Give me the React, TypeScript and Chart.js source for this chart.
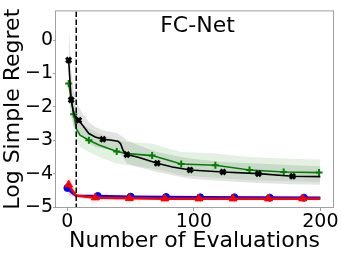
import React, { useEffect, useRef } from "react";
import { Chart, registerables } from "chart.js";

Chart.register(...registerables);

const FONT = "'DejaVu Sans', sans-serif";

const titleText = "FC-Net";
const xLabel = "Number of Evaluations";
const yLabel = "Log Simple Regret";
const xTicks = [0, 100, 200];
const yTicks = [-5, -4, -3, -2, -1, 0];
const dashX = 7;

// black (X markers)
const xBlack = [1, 3, 5, 7, 9, 12, 17, 22, 28, 35, 40, 42, 44, 47, 56, 71, 83, 97, 123, 151, 178, 200];
const meanBlack = [-0.6, -1.79, -2.2, -2.35, -2.4, -2.55, -2.8, -2.9, -2.97, -3.0, -3.03, -3.1, -3.3, -3.43, -3.51, -3.69, -3.8, -3.89, -3.95, -4.0, -4.08, -4.09];
const upperBlack = [0.55, -0.9, -1.5, -1.8, -2.0, -2.2, -2.45, -2.6, -2.7, -2.75, -2.8, -2.85, -2.9, -3.0, -3.15, -3.35, -3.45, -3.55, -3.65, -3.7, -3.75, -3.78];
const lowerBlack = [-1.6, -2.3, -2.6, -2.7, -2.8, -2.9, -3.1, -3.2, -3.25, -3.3, -3.35, -3.42, -3.5, -3.7, -3.8, -3.95, -4.05, -4.15, -4.22, -4.28, -4.32, -4.33];
const mxBlack = [1, 3, 9, 28, 47, 71, 97, 123, 151, 178];
const myBlack = [-0.6, -1.79, -2.4, -2.97, -3.43, -3.69, -3.89, -3.95, -4.0, -4.08];

// green (+ markers)
const xGreen = [1, 5, 7, 10, 17, 25, 39, 48, 67, 80, 90, 117, 144, 171, 200];
const meanGreen = [-1.3, -2.22, -2.65, -2.85, -3.0, -3.14, -3.34, -3.4, -3.46, -3.6, -3.71, -3.75, -3.89, -3.95, -3.97];
const upperGreen = [-0.9, -1.8, -2.2, -2.45, -2.65, -2.8, -3.0, -3.05, -3.1, -3.25, -3.35, -3.4, -3.5, -3.55, -3.58];
const lowerGreen = [-1.7, -2.6, -3.0, -3.2, -3.35, -3.5, -3.7, -3.75, -3.85, -3.95, -4.05, -4.12, -4.2, -4.22, -4.25];
const mxGreen = [1, 5, 17, 39, 67, 90, 117, 144, 171, 199];
const myGreen = [-1.3, -2.22, -3.0, -3.34, -3.46, -3.71, -3.75, -3.89, -3.95, -3.97];

// blue (circle markers)
const xBlue = [0, 3, 7, 24, 50, 78, 105, 200];
const meanBlue = [-4.43, -4.55, -4.66, -4.67, -4.69, -4.7, -4.71, -4.72];
const upperBlue = [-4.25, -4.45, -4.62, -4.64, -4.66, -4.67, -4.68, -4.69];
const lowerBlue = [-4.6, -4.65, -4.7, -4.7, -4.72, -4.73, -4.74, -4.75];
const mxBlue = [0, 24, 50, 78, 105, 132, 160, 187];
const myBlue = [-4.43, -4.67, -4.69, -4.7, -4.71, -4.71, -4.72, -4.72];

// red (triangle markers)
const xRed = [1, 3, 7, 22, 49, 77, 200];
const meanRed = [-4.31, -4.45, -4.66, -4.72, -4.74, -4.75, -4.75];
const upperRed = [-4.0, -4.2, -4.6, -4.68, -4.7, -4.71, -4.71];
const lowerRed = [-4.65, -4.68, -4.72, -4.76, -4.78, -4.79, -4.79];
const mxRed = [1, 22, 49, 77, 104, 131, 159, 186];
const myRed = [-4.33, -4.72, -4.74, -4.75, -4.75, -4.75, -4.75, -4.75];

const pts = (xs: number[], ys: number[]) => xs.map((x, i) => ({ x, y: ys[i] }));

const band = (xs: number[], up: number[], lo: number[], color: string) => [
  { data: pts(xs, up), borderWidth: 0, pointRadius: 0, fill: false, order: 20, borderColor: "rgba(0,0,0,0)" },
  { data: pts(xs, lo), borderWidth: 0, pointRadius: 0, fill: "-1", backgroundColor: color, order: 20, borderColor: "rgba(0,0,0,0)" },
];

const line = (xs: number[], ys: number[], color: string, width: number, order: number) => ({
  data: pts(xs, ys), borderColor: color, borderWidth: width, pointRadius: 0, fill: false, order, tension: 0,
});

const marks = (xs: number[], ys: number[], color: string, style: string, r: number, bw: number, order: number) => ({
  data: pts(xs, ys), showLine: false, pointStyle: style, pointRadius: r, borderColor: color,
  backgroundColor: color, borderWidth: bw, order, fill: false,
});

const framePlugin = {
  id: "frame",
  afterDatasetsDraw(chart: any) {
    const { ctx, chartArea: a, scales } = chart;
    ctx.save();
    const px = scales.x.getPixelForValue(dashX);
    ctx.strokeStyle = "#000";
    ctx.lineWidth = 1.5;
    ctx.setLineDash([5.5, 2.5]);
    ctx.beginPath();
    ctx.moveTo(px, a.top);
    ctx.lineTo(px, a.bottom);
    ctx.stroke();
    ctx.setLineDash([]);
    ctx.strokeStyle = "#a0a0a0";
    ctx.lineWidth = 1;
    ctx.strokeRect(a.left - 0.5, a.top - 0.5, a.right - a.left + 1, a.bottom - a.top + 1);
    ctx.fillStyle = "#000";
    ctx.font = `22px ${FONT}`;
    ctx.textAlign = "center";
    ctx.textBaseline = "alphabetic";
    ctx.fillText(titleText, (a.left + a.right) / 2 + 3, a.top + 21);
    ctx.restore();
  },
};

export default function App() {
  const ref = useRef<HTMLCanvasElement>(null);
  useEffect(() => {
    if (!ref.current) return;
    const datasets: any[] = [
      ...band(xGreen, upperGreen, lowerGreen, "rgba(0,128,0,0.11)"),
      ...band(xBlack, upperBlack, lowerBlack, "rgba(0,0,0,0.11)"),
      ...band(xBlue, upperBlue, lowerBlue, "rgba(0,0,255,0.10)"),
      ...band(xRed, upperRed, lowerRed, "rgba(255,0,0,0.12)"),
      line(xGreen, meanGreen, "#008000", 1.6, 7),
      marks(mxGreen, myGreen, "#008000", "cross", 3.5, 2, 6),
      line(xBlack, meanBlack, "#000000", 1.6, 5),
      marks(mxBlack, myBlack, "#000000", "crossRot", 3.5, 3, 4),
      line(xBlue, meanBlue, "#0000ff", 2.5, 3),
      marks(mxBlue, myBlue, "#0000ff", "circle", 3.5, 1, 2),
      line(xRed, meanRed, "#ff0000", 2.5, 1),
      marks(mxRed, myRed, "#ff0000", "triangle", 4.5, 1, 0),
    ];
    const chart = new Chart(ref.current, {
      type: "line",
      data: { datasets },
      options: {
        responsive: false,
        animation: false,
        devicePixelRatio: 1,
        layout: { padding: { left: 0, right: 8, top: 2, bottom: 0 } },
        plugins: {
          legend: { display: false },
          tooltip: { enabled: false },
          filler: { drawTime: "beforeDatasetsDraw" },
        } as any,
        scales: {
          x: {
            type: "linear",
            min: -9,
            max: 210,
            afterBuildTicks: (s: any) => { s.ticks = xTicks.map((v) => ({ value: v })); },
            afterFit: (s: any) => { s.height = 47; },
            ticks: { font: { family: FONT, size: 19 }, color: "#000", padding: 0, maxRotation: 0, autoSkip: false },
            grid: { drawOnChartArea: false, drawTicks: true, tickLength: 4, color: "#a0a0a0" },
            border: { display: false },
            title: { display: true, text: xLabel, font: { family: FONT, size: 22 }, color: "#000", padding: { top: 0, bottom: 0 } },
          },
          y: {
            type: "linear",
            min: -5.0,
            max: 0.86,
            afterBuildTicks: (s: any) => { s.ticks = yTicks.map((v) => ({ value: v })); },
            afterFit: (s: any) => { s.width = 56; },
            ticks: {
              font: { family: FONT, size: 19 }, color: "#000", padding: 0, autoSkip: false,
              callback: (v: any) => (v < 0 ? "\u2212" + Math.abs(v) : String(v)),
            },
            grid: { drawOnChartArea: false, drawTicks: true, tickLength: 3, color: "#a0a0a0" },
            border: { display: false },
            title: { display: true, text: yLabel, font: { family: FONT, size: 22 }, color: "#000", padding: { top: 0, bottom: 0 } },
          },
        },
      },
      plugins: [framePlugin],
    } as any);
    return () => chart.destroy();
  }, []);
  return (
    <div style={{ position: "fixed", left: 0, top: 0, width: 341, height: 254, background: "#fff" }}>
      <canvas ref={ref} width={341} height={254} style={{ display: "block" }} />
    </div>
  );
}
